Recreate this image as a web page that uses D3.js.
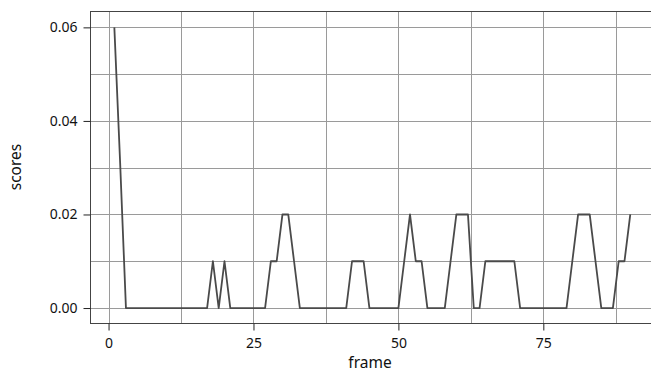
<!DOCTYPE html>
<html>
<head>
<meta charset="utf-8">
<script src="https://cdn.jsdelivr.net/npm/d3@7"></script>
<style>
  body { margin: 0; background: #fff; }
  svg { display: block; font-family: "Noto Sans", sans-serif; }
</style>
</head>
<body>
<div id="chart"></div>
<script>
(function () {

    // frames 1..90, scores
    var frames = d3.range(1, 91);
    var scores = [
        0.06, 0.031, 0, 0, 0, 0, 0, 0, 0, 0,          // 1-10
        0, 0, 0, 0, 0, 0, 0, 0.01, 0, 0.01,           // 11-20
        0, 0, 0, 0, 0, 0, 0, 0.01, 0.01, 0.02,        // 21-30
        0.02, 0.01, 0, 0, 0, 0, 0, 0, 0, 0,           // 31-40
        0, 0.01, 0.01, 0.01, 0, 0, 0, 0, 0, 0,        // 41-50
        0.01, 0.02, 0.01, 0.01, 0, 0, 0, 0, 0.01, 0.02, // 51-60
        0.02, 0.02, 0, 0, 0.01, 0.01, 0.01, 0.01, 0.01, 0.01, // 61-70
        0, 0, 0, 0, 0, 0, 0, 0, 0, 0.01,              // 71-80
        0.02, 0.02, 0.02, 0.01, 0, 0, 0, 0.01, 0.01, 0.02 // 81-90
    ];
    var xTicks = [0, 25, 50, 75],
        xGrid = [0, 12.5, 25, 37.5, 50, 62.5, 75, 87.5],
        yTicks = [0, 0.02, 0.04, 0.06],
        yGrid = [0, 0.01, 0.02, 0.03, 0.04, 0.05, 0.06];

    var width = 651, height = 380,
        left = 90, top = 11, bottom = 323;

    var svg = d3.select("#chart").append("svg")
        .attr("width", width).attr("height", height);

    var x = d3.scaleLinear().domain([-3.2, 94.2]).range([left, left + 97.4 * 5.797]);
    var y = d3.scaleLinear().domain([-0.0032, 0.0635]).range([bottom, top]);

    var plotRight = x.range()[1];

    // grid
    svg.append("g").selectAll("line")
        .data(xGrid).enter().append("line")
        .attr("x1", function (d) { return Math.round(x(d)) + 0.5; })
        .attr("x2", function (d) { return Math.round(x(d)) + 0.5; })
        .attr("y1", top).attr("y2", bottom)
        .style("stroke", "#9a9a9a").style("stroke-width", 1);

    svg.append("g").selectAll("line")
        .data(yGrid).enter().append("line")
        .attr("y1", function (d) { return Math.round(y(d)) + 0.5; })
        .attr("y2", function (d) { return Math.round(y(d)) + 0.5; })
        .attr("x1", left).attr("x2", plotRight)
        .style("stroke", "#9a9a9a").style("stroke-width", 1);

    // frame
    svg.append("rect")
        .attr("x", left + 0.5).attr("y", top + 0.5)
        .attr("width", plotRight - left).attr("height", bottom - top)
        .style("fill", "none").style("stroke", "#444").style("stroke-width", 1);

    // line
    var line = d3.line()
        .x(function (d, i) { return x(frames[i]); })
        .y(function (d) { return y(d); });

    svg.append("path")
        .datum(scores)
        .attr("d", line)
        .style("fill", "none")
        .style("stroke", "#4a4a4a")
        .style("stroke-width", 1.8)
        .style("stroke-linejoin", "round");

    // axes
    var xAxis = svg.append("g")
        .attr("transform", "translate(0," + (bottom + 0.5) + ")")
        .call(d3.axisBottom(x).tickValues(xTicks).tickSize(7).tickPadding(8).tickFormat(d3.format("d")));
    var yAxis = svg.append("g")
        .attr("transform", "translate(" + (left + 0.5) + ",0)")
        .call(d3.axisLeft(y).tickValues(yTicks).tickSize(7).tickPadding(6).tickFormat(d3.format(".2f")));

    [xAxis, yAxis].forEach(function (a) {
        a.select(".domain").remove();
        a.selectAll(".tick line").style("stroke", "#222");
        a.selectAll(".tick text")
            .style("font-family", "'Noto Sans', sans-serif")
            .style("font-size", "14px")
            .style("fill", "#111");
    });

    svg.append("text")
        .attr("x", 370).attr("y", 368)
        .attr("text-anchor", "middle")
        .style("font-size", "15.5px").style("fill", "#111")
        .text("frame");

    svg.append("text")
        .attr("transform", "translate(21,167) rotate(-90)")
        .attr("text-anchor", "middle")
        .style("font-size", "15.5px").style("fill", "#111")
        .text("scores");

}());
</script>
</body>
</html>
